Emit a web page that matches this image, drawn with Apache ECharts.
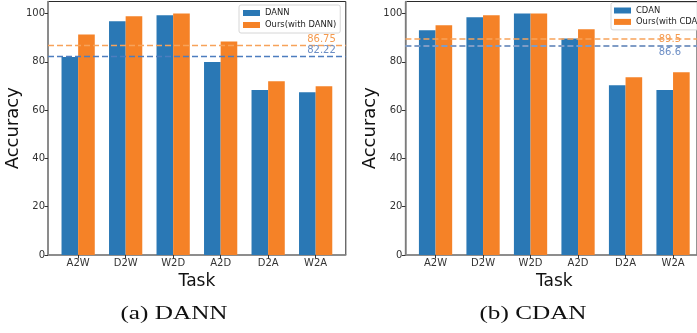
<!DOCTYPE html>
<html>
<head>
<meta charset="utf-8">
<script src="https://cdn.jsdelivr.net/npm/echarts@6/dist/echarts.min.js"></script>
<style>html,body{margin:0;padding:0;background:#fff;}#c{width:697px;height:333px;}</style>
</head>
<body>
<div id="c"></div>
<script>
const tasks = ['A2W', 'D2W', 'W2D', 'A2D', 'D2A', 'W2A'];
const dann = [82.0, 96.8, 99.3, 79.9, 68.3, 67.4];
const oursDann = [91.3, 98.9, 100.0, 88.4, 72.0, 69.9];
const cdan = [93.1, 98.5, 100.0, 89.7, 70.3, 68.3];
const oursCdan = [95.2, 99.3, 100.0, 93.5, 73.6, 75.7];
const meanDann = 82.22;
const meanOursDann = 86.75;
const meanCdan = 86.6;
const meanOursCdan = 89.5;
const yTicks = [0, 20, 40, 60, 80, 100];
const captions = ['(a) DANN', '(b) CDAN'];

const BLUE = '#2a78b5', ORANGE = '#f58227';
const FONT = 'DejaVu Sans';
const chart = echarts.init(document.getElementById('c'), null, {renderer: 'canvas'});

const PITCH = 47.5, INSET = 6.4, FW = 297.8, TOP = 1.5, H = 253.5;
const frames = [48, 405.4];

const grids = [], xAxes = [], yAxes = [], series = [];
frames.forEach((fl, k) => {
  grids.push({left: fl, top: TOP, width: FW, height: H, show: true, borderColor: '#2b2b2b', borderWidth: 1, backgroundColor: 'transparent', containLabel: false});
  grids.push({left: fl + INSET, top: TOP, width: PITCH * 6, height: H, containLabel: false});
  xAxes.push({gridIndex: 2 * k, type: 'value', min: 0, max: 1, axisLine: {show: true, lineStyle: {color: '#8a8a8a', width: 1.6}}, axisTick: {show: false}, axisLabel: {show: false}, splitLine: {show: false}});
  yAxes.push({gridIndex: 2 * k, type: 'value', min: 0, max: 105, axisLine: {show: true, lineStyle: {color: '#8a8a8a', width: 1.6}}, axisTick: {show: false}, axisLabel: {show: false}, splitLine: {show: false}});
  xAxes.push({gridIndex: 2 * k + 1, type: 'category', data: tasks,
    axisLine: {show: false},
    axisTick: {show: true, alignWithLabel: true, length: 3.5, lineStyle: {color: '#333', width: 1}},
    axisLabel: {fontFamily: FONT, fontSize: 10, color: '#333', margin: 3.5},
    name: 'Task', nameLocation: 'middle', nameGap: 12,
    nameTextStyle: {fontFamily: FONT, fontSize: 17, color: '#111'}});
  yAxes.push({gridIndex: 2 * k + 1, type: 'value', min: 0, max: 105, offset: INSET,
    axisLine: {show: false},
    axisTick: {show: true, length: 3.5, customValues: yTicks, lineStyle: {color: '#333', width: 1}},
    axisLabel: {customValues: yTicks, fontFamily: FONT, fontSize: 10, color: '#333', margin: 3},
    splitLine: {show: false},
    name: 'Accuracy', nameLocation: 'middle', nameGap: 25,
    nameTextStyle: {fontFamily: FONT, fontSize: 18, color: '#111'}});
});

const sets = [
  {base: 'DANN', ours: 'Ours(with DANN)', b: dann, o: oursDann, mb: meanDann, mo: meanOursDann,
   lb: {pos: 'insideEndTop', dist: [10, 1]}, lo: {pos: 'insideEndTop', dist: [10, 1]}, wb: 1.4, wo: 1.4, cb: '#4d7dbf'},
  {base: 'CDAN', ours: 'Ours(with CDAN)', b: cdan, o: oursCdan, mb: meanCdan, mo: meanOursCdan,
   lb: {pos: 'insideEndBottom', dist: [16, 1]}, lo: {pos: 'insideEnd', dist: [16, 0]}, wb: 2, wo: 1.5, cb: '#7f9cc6'}
];

sets.forEach((s, k) => {
  series.push({name: s.base, type: 'bar', xAxisIndex: 2 * k + 1, yAxisIndex: 2 * k + 1, data: s.b,
    barGap: '0%', barCategoryGap: '30%', itemStyle: {color: BLUE}});
  series.push({name: s.ours, type: 'bar', xAxisIndex: 2 * k + 1, yAxisIndex: 2 * k + 1, data: s.o,
    barGap: '0%', barCategoryGap: '30%', itemStyle: {color: ORANGE}});
  series.push({name: 'mean' + k, type: 'line', xAxisIndex: 2 * k, yAxisIndex: 2 * k, data: [], z: 5,
    markLine: {silent: true, symbol: 'none', animation: false,
      data: [
        {yAxis: s.mo, lineStyle: {color: '#f7a25a', type: [6, 3], width: s.wo},
         label: {show: true, formatter: String(s.mo), position: s.lo.pos, distance: s.lo.dist, color: '#f59a4e', fontFamily: FONT, fontSize: 10}},
        {yAxis: s.mb, lineStyle: {color: s.cb, type: [6, 3], width: s.wb},
         label: {show: true, formatter: String(s.mb), position: s.lb.pos, distance: s.lb.dist, color: '#6b8dc4', fontFamily: FONT, fontSize: 10}}
      ]}});
});

const legendCommon = {orient: 'vertical', icon: 'rect', itemWidth: 17, itemHeight: 6,
  backgroundColor: 'rgba(255,255,255,0.85)', borderColor: '#d6d6d6', borderWidth: 1, borderRadius: 2,
  textStyle: {fontFamily: FONT, fontSize: 8.4, color: '#222', lineHeight: 10}};

const option = {
  animation: false,
  backgroundColor: '#fff',
  grid: grids, xAxis: xAxes, yAxis: yAxes, series: series,
  legend: [
    Object.assign({}, legendCommon, {data: ['DANN', 'Ours(with DANN)'], left: 239, top: 5, padding: [3, 4, 3, 4], itemGap: 2}),
    Object.assign({}, legendCommon, {data: ['CDAN', 'Ours(with CDAN)'], left: 611, top: 2.5, padding: [3, 3, 3, 3], itemGap: 1.4})
  ],
  graphic: [
    {type: 'text', x: 174, y: 314, scaleX: 1.4, style: {text: captions[0], font: '18px "Liberation Serif"', fill: '#111', textAlign: 'center', textVerticalAlign: 'middle'}},
    {type: 'text', x: 533, y: 314, scaleX: 1.4, style: {text: captions[1], font: '18px "Liberation Serif"', fill: '#111', textAlign: 'center', textVerticalAlign: 'middle'}}
  ]
};
chart.setOption(option);
</script>
</body>
</html>
